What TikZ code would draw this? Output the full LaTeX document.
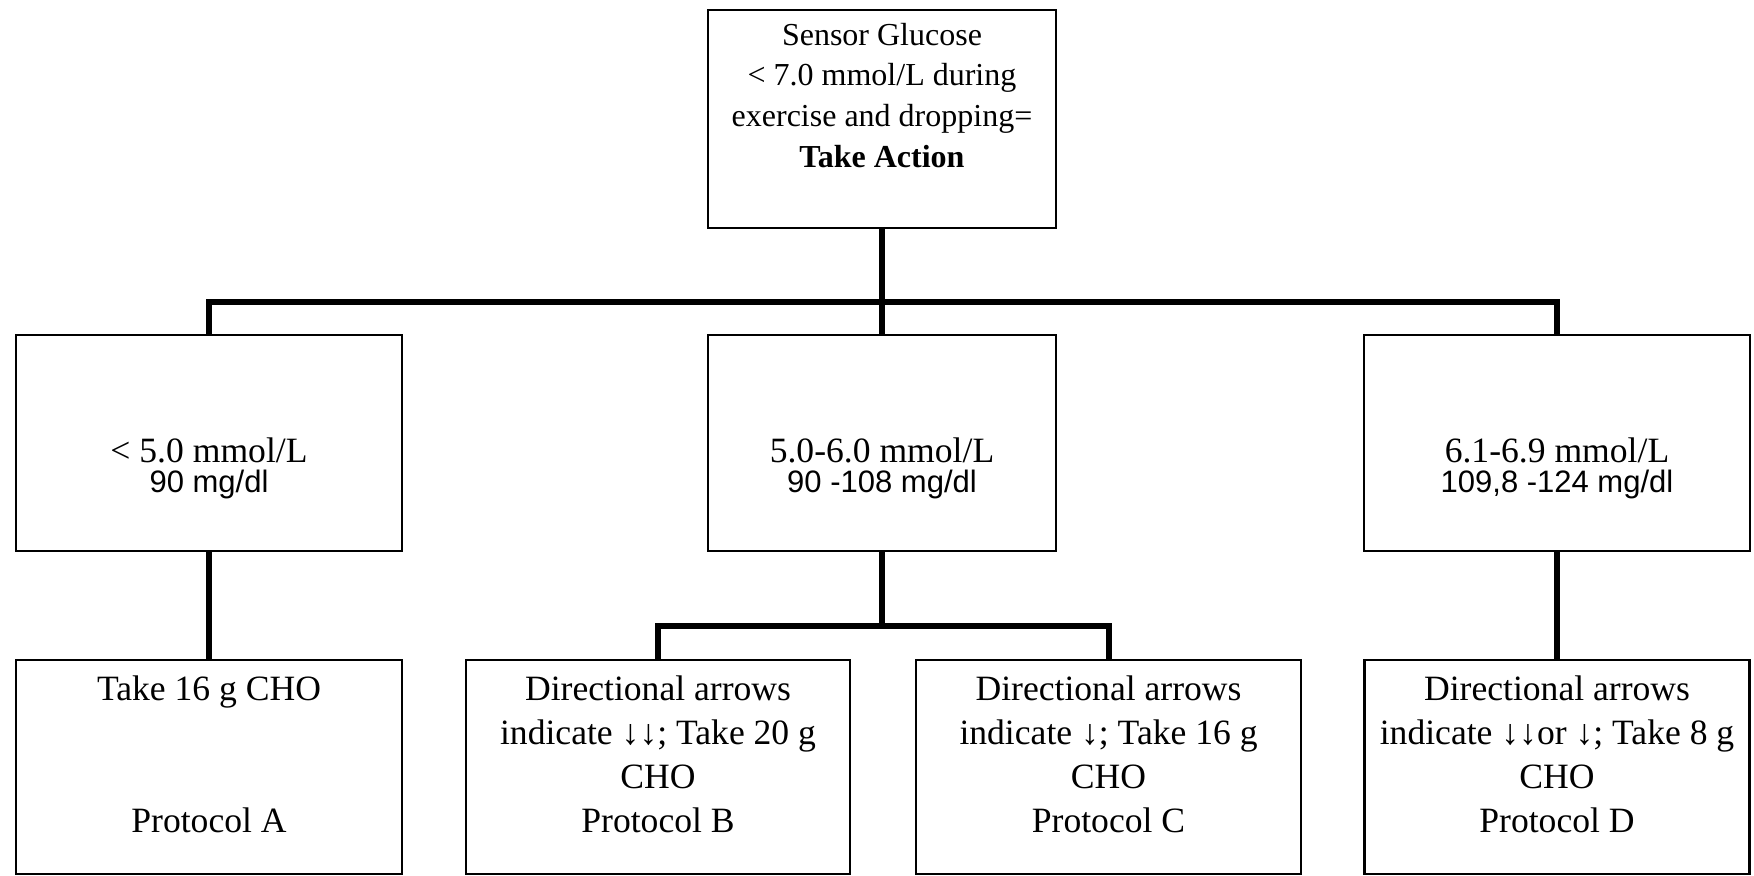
\documentclass[tikz,border=0pt]{standalone}
\usepackage{fontspec}
\setmainfont{Liberation Serif}
\newfontfamily\arialf{Liberation Sans}
\begin{document}
\begin{tikzpicture}[x=0.5pt,y=-0.5pt,
  box/.style={draw, line width=1.2pt, inner sep=0pt, rectangle},
  conn/.style={line width=3pt},
  txt/.style={inner sep=0pt, align=center},
  toptext/.style={txt, anchor=north, font=\fontsize{16}{20.3}\selectfont},
  bottext/.style={txt, anchor=north, font=\fontsize{17.8}{22}\selectfont},
  serifline/.style={inner sep=0pt, anchor=base, font=\fontsize{17.8}{22}\selectfont},
  sansline/.style={inner sep=0pt, anchor=base, font=\arialf\fontsize{15.5}{18}\selectfont}]
\useasboundingbox (0,0) rectangle (1754,876);
% boxes
\node[box, minimum width=174pt, minimum height=109pt] (top) at (882,119) {};
\node[box, minimum width=193pt, minimum height=108pt] (L) at (209,443) {};
\node[box, minimum width=174pt, minimum height=108pt] (M) at (882,443) {};
\node[box, minimum width=193pt, minimum height=108pt] (R) at (1557,443) {};
\node[box, minimum width=193pt, minimum height=107pt] (A) at (209,767) {};
\node[box, minimum width=192pt, minimum height=107pt] (B) at (658,767) {};
\node[box, minimum width=192.5pt, minimum height=107pt] (C) at (1108.5,767) {};
\node[box, minimum width=192.5pt, minimum height=107pt] (D) at (1557,767) {};
% texts
\node[toptext] (ttop) at (882,13) {\rule{0pt}{1em}Sensor Glucose\\< 7.0 mmol/L during\\exercise and dropping=\\\textbf{Take Action}};
\node[serifline] (tL1) at (209,463) {< 5.0 mmol/L};
\node[sansline] (tL2) at (209,492) {90 mg/dl};
\node[serifline] (tM1) at (882,463) {5.0-6.0 mmol/L};
\node[sansline] (tM2) at (882,492) {90 -108 mg/dl};
\node[serifline] (tR1) at (1557,463) {6.1-6.9 mmol/L};
\node[sansline] (tR2) at (1557,492) {109,8 -124 mg/dl};
\node[bottext] (tA) at (209,664.4) {\rule{0pt}{1em}Take 16 g CHO\\[44pt]Protocol A};
\node[bottext] (tB) at (658,664.4) {\rule{0pt}{1em}Directional arrows\\indicate ↓↓; Take 20 g\\CHO\\Protocol B};
\node[bottext] (tC) at (1108.5,664.4) {\rule{0pt}{1em}Directional arrows\\indicate ↓; Take 16 g\\CHO\\Protocol C};
\node[bottext] (tD) at (1557,664.4) {\rule{0pt}{1em}Directional arrows\\indicate ↓↓or ↓; Take 8 g\\CHO\\Protocol D};
% connectors
\coordinate (bar1) at (882,302);
\coordinate (bar2) at (882,626);
\draw[conn] (top.south) -- (bar1);
\draw[conn] (L.north) |- (bar1) -| (R.north);
\draw[conn] (bar1) -- (M.north);
\draw[conn] (L.south) -- (A.north);
\draw[conn] (R.south) -- (D.north);
\draw[conn] (M.south) -- (bar2);
\draw[conn] (B.north) |- (bar2) -| (C.north);
\end{tikzpicture}
\end{document}
